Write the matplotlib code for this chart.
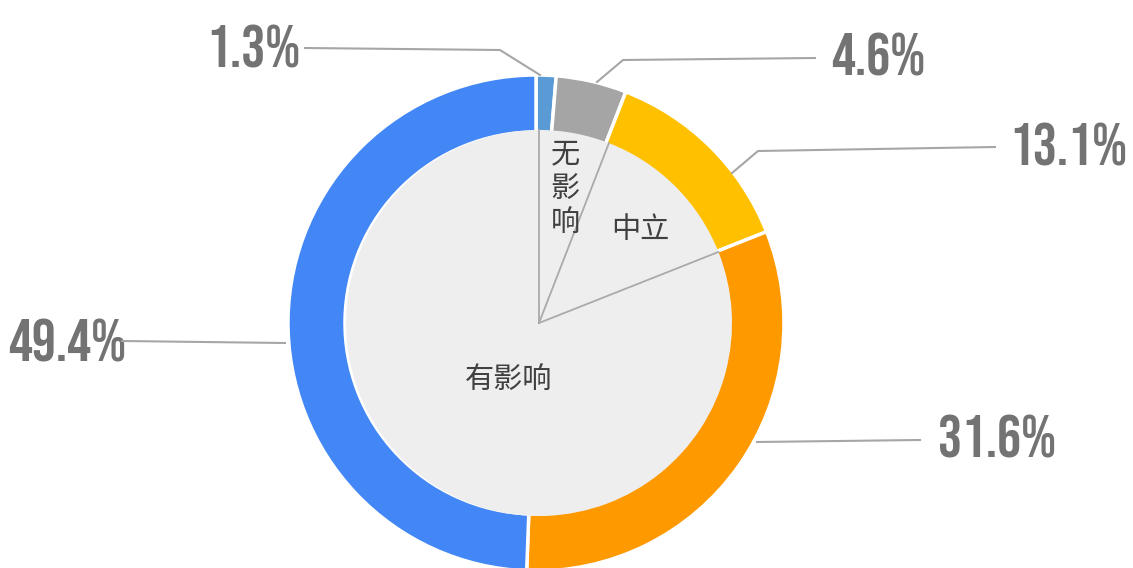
import numpy as np
import matplotlib.pyplot as plt

W, H = 1133, 568

# outer ring: detailed answers, clockwise from 12 o'clock
ring_vals = [1.3, 4.6, 13.1, 31.6, 49.4]
ring_colors = ['#5b9bd5', '#a5a5a5', '#ffc000', '#ff9900', '#4287f5']
ring_labels = ['1.3%', '4.6%', '13.1%', '31.6%', '49.4%']

# inner pie: grouped answers
inner_names = ['无影响', '中立', '有影响']
inner_vals = [ring_vals[0] + ring_vals[1], ring_vals[2], ring_vals[3] + ring_vals[4]]

num_font = ['Bebas Neue', 'Barlow Condensed', 'DejaVu Sans']
cjk = ['Noto Sans CJK SC', 'DejaVu Sans']

fig = plt.figure(figsize=(W / 100, H / 100), dpi=100)
ax = fig.add_axes([0, 0, 1, 1])


def px(x, y):
    return x, H - y


cx, cy = px(536, 323)
r_out, r_in = 248, 191

ax.pie(ring_vals, radius=r_out, center=(cx, cy), startangle=90, counterclock=False,
       colors=ring_colors, wedgeprops=dict(width=r_out - r_in, edgecolor='white', linewidth=2.5))

# the grey centre sits on top of the ring's inner edge
icx = cx + 3
ax.pie(inner_vals, radius=r_in + 2, center=(icx, cy), startangle=90, counterclock=False,
       colors=['#eeeeee'] * 3, wedgeprops=dict(edgecolor='none'))

# separators between the inner groups
bounds = np.concatenate([[0], np.cumsum(inner_vals)[:-1]]) / 100 * 360
for a in np.deg2rad(bounds):
    ax.plot([icx, icx + (r_in + 2) * np.sin(a)], [cy, cy + (r_in + 2) * np.cos(a)],
            color='#aaaaaa', lw=1.3, zorder=3)

ax.set_xlim(0, W)
ax.set_ylim(0, H)
ax.axis('off')

# leader lines and percentage labels (label x centre, baseline y)
leaders = [
    [(540, 75), (500, 50), (305, 48)],
    [(597, 82), (623, 60), (815, 58)],
    [(732, 173), (758, 151), (995, 147)],
    [(757, 442), (920, 440)],
    [(285, 343), (122, 341)],
]
label_pos = [(253, 68), (878, 75), (1068, 165), (997, 458), (67, 362)]
for pts, lab, (lx, ly) in zip(leaders, ring_labels, label_pos):
    xs, ys = zip(*[px(*p) for p in pts])
    ax.plot(xs, ys, color='#a6a6a6', lw=1.5, zorder=4)
    ax.text(*px(lx, ly), lab, ha='center', va='baseline', fontsize=43,
            family=num_font, color='#737373')

txt = dict(ha='center', va='center', fontsize=21, color='#404040', family=cjk, zorder=5)
ax.text(*px(565, 189), '\n'.join(inner_names[0]), linespacing=1.2, **txt)
ax.text(*px(640, 230), inner_names[1], **txt)
ax.text(*px(509, 381), inner_names[2], **txt)

fig.savefig('out.png', dpi=100)
